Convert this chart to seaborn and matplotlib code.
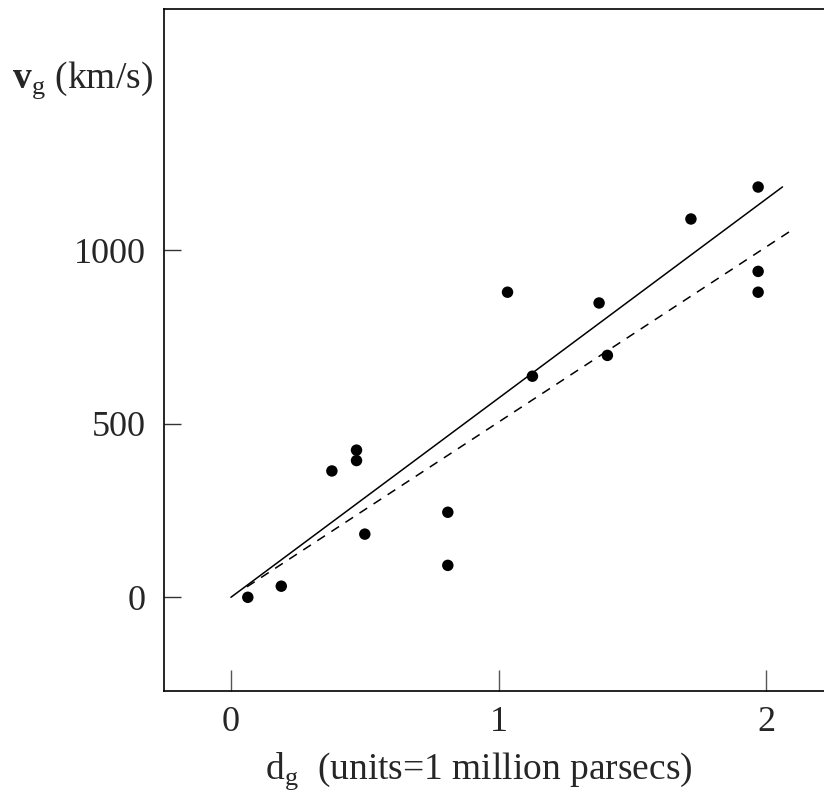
import numpy as np
import pandas as pd
import matplotlib
matplotlib.use("Agg")
import matplotlib.pyplot as plt
import seaborn as sns

# galaxy distances (million parsecs) and velocities (km/s)
dist = [0.063, 0.188, 0.377, 0.469, 0.469, 0.500, 0.81, 0.81,
        1.033, 1.126, 1.375, 1.406, 1.718, 1.969, 1.969, 1.969]
vel = [0, 32, 364, 424, 394, 182, 245, 92,
       879, 637, 848, 697, 1090, 1182, 939, 879]

# two fitted lines through the origin
solid_x = [0.0, 2.06]
solid_slope = 574
dash_x = [0.06, 2.092]
dash_slope = 505

xticks = [0, 1, 2]
yticks = [0, 500, 1000]

sns.set_style("ticks")
plt.rcParams["font.family"] = ["Liberation Serif", "DejaVu Serif"]
plt.rcParams["mathtext.fontset"] = "custom"
plt.rcParams["mathtext.rm"] = "Liberation Serif"
plt.rcParams["mathtext.bf"] = "Liberation Serif:bold"

df = pd.DataFrame({"d": dist, "v": vel})

fig = plt.figure(figsize=(8.24, 8.05), dpi=100)
ax = fig.add_axes([164 / 824, 114 / 805, 1 - 164 / 824, 682 / 805])

sns.lineplot(x=solid_x, y=[solid_slope * x for x in solid_x], color="black", lw=1.1, ax=ax)
sns.lineplot(x=dash_x, y=[dash_slope * x for x in dash_x], color="black", lw=1.1,
             linestyle=(0, (6, 5)), ax=ax)
sns.scatterplot(data=df, x="d", y="v", color="black", s=68, marker="o",
                edgecolor="none", ax=ax)

ax.set_xlim(-0.25, 2.215)
ax.set_ylim(-270, 1695)
ax.set_xticks(xticks)
ax.set_yticks(yticks)
ax.set_xlabel("")
ax.set_ylabel("")
ax.spines["right"].set_visible(False)
for s in ["left", "bottom", "top"]:
    ax.spines[s].set_linewidth(1.2)
    ax.spines[s].set_color("black")
ax.tick_params(axis="x", direction="in", length=15, width=1, pad=11, labelsize=26, color="#555555")
ax.tick_params(axis="y", direction="in", length=12, width=1, pad=13, labelsize=26, color="#333333")

fig.text(12 / 824, 1 - 80 / 805, r"$\mathbf{v}_{\mathrm{g}}$ (km/s)", fontsize=27,
         ha="left", va="center")
fig.text(479 / 824, 1 - 771 / 805, r"$\mathrm{d}_{\mathrm{g}}$  (units=1 million parsecs)",
         fontsize=27, ha="center", va="center")

fig.savefig("out.png", dpi=100)
